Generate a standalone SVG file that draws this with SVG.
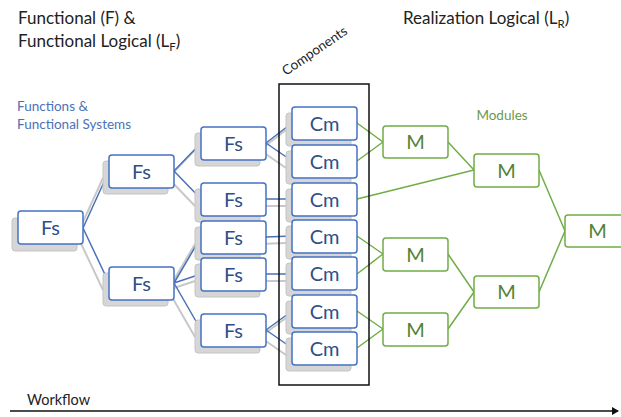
<svg xmlns="http://www.w3.org/2000/svg" width="621" height="417" viewBox="0 0 621 417">
<defs>
<style>
.t{font-family:Lato,"Liberation Sans",sans-serif;fill:#222}
.bl{fill:#fff;stroke:#4472c4;stroke-width:1.5}
.sh{fill:#d6d6d6;stroke:#c4c4c4;stroke-width:1}
.gr{fill:#fff;stroke:#70ad47;stroke-width:1.5}
.nt{font-family:Lato,"Liberation Sans",sans-serif;font-size:20px;text-anchor:middle;fill:#2f4f8a}
.mt{font-family:Lato,"Liberation Sans",sans-serif;font-size:20px;text-anchor:middle;fill:#548235}
.cb{stroke:#4a72b8;stroke-width:1.5;fill:none}
.cs{stroke:#c8c8c8;stroke-width:2;fill:none}
.cg{stroke:#70ad47;stroke-width:1.5;fill:none}
</style>
<marker id="ah" markerWidth="8" markerHeight="8" refX="6" refY="4" orient="auto" markerUnits="userSpaceOnUse">
<path d="M0,0 L7,4 L0,8 z" fill="#111"/>
</marker>
</defs>
<rect width="621" height="417" fill="#fff"/>

<text class="t" x="18" y="24" font-size="17">Functional (F) &amp;</text>
<text class="t" x="18" y="47" font-size="17">Functional Logical (L<tspan font-size="11.5" dy="4">F</tspan><tspan dy="-4">)</tspan></text>
<text class="t" x="403" y="24" font-size="17">Realization Logical (L<tspan font-size="11.5" dy="4">R</tspan><tspan dy="-4">)</tspan></text>
<text class="t" x="17" y="111" font-size="13.5" style="fill:#4a72b8">Functions &amp;</text>
<text class="t" x="17" y="129" font-size="13.5" style="fill:#4a72b8">Functional Systems</text>
<text class="t" x="502" y="120" font-size="13.5" text-anchor="middle" style="fill:#6a9a4a">Modules</text>
<text class="t" font-size="13.5" transform="translate(286,76) rotate(-34.5)">Components</text>
<text class="t" x="27" y="405" font-size="14.5">Workflow</text>

<g id="connectors">
<g id="shadow-lines">
<path class="cs" d="M77,235 L103,178 M77,235 L103,290"/>
<path class="cs" d="M168,178 L195,150 M168,178 L195,206"/>
<path class="cs" d="M168,290 L195,244 M168,290 L195,281 M168,290 L195,337"/>
<path class="cs" d="M260,150 L286,130 M260,150 L286,168"/>
<path class="cs" d="M260,206 L286,206 M260,244 L286,243 M260,281 L286,281"/>
<path class="cs" d="M260,337 L286,318 M260,337 L286,355"/>
</g>
<g id="blue-lines">
<path class="cb" d="M83,228 L109,171 M83,228 L109,283"/>
<path class="cb" d="M174,171 L201,143 M174,171 L201,199"/>
<path class="cb" d="M174,283 L201,237 M174,283 L201,274 M174,283 L201,330"/>
<path class="cb" d="M266,143 L292,123 M266,143 L292,161"/>
<path class="cb" d="M266,199 L292,199 M266,237 L292,236 M266,274 L292,274"/>
<path class="cb" d="M266,330 L292,311 M266,330 L292,348"/>
</g>
<g id="green-lines">
<path class="cg" d="M357,123 L383,142 M357,161 L383,142"/>
<path class="cg" d="M357,199 L474,170"/>
<path class="cg" d="M357,236 L383,254 M357,274 L383,254"/>
<path class="cg" d="M357,311 L383,329 M357,348 L383,329"/>
<path class="cg" d="M448,142 L474,170"/>
<path class="cg" d="M448,254 L474,292 M448,329 L474,292"/>
<path class="cg" d="M539,170 L565,231 M539,292 L565,231"/>
</g>
<line id="workflow" x1="10" y1="411" x2="618" y2="411" stroke="#111" stroke-width="1.5" marker-end="url(#ah)"/>
</g>

<rect id="components-box" x="279" y="84" width="90" height="301" fill="none" stroke="#111" stroke-width="1.5"/>

<g id="fs0"><rect class="sh" x="12" y="218" width="65" height="33" rx="3"/><rect class="bl" x="18" y="211" width="65" height="33" rx="3"/><text class="nt" x="50.5" y="235">Fs</text></g>
<g id="fs1"><rect class="sh" x="103" y="161" width="65" height="33" rx="3"/><rect class="bl" x="109" y="155" width="65" height="33" rx="3"/><text class="nt" x="141.5" y="179">Fs</text></g>
<g id="fs2"><rect class="sh" x="103" y="273" width="65" height="33" rx="3"/><rect class="bl" x="109" y="267" width="65" height="33" rx="3"/><text class="nt" x="141.5" y="291">Fs</text></g>

<g id="fs3"><rect class="sh" x="195" y="133" width="65" height="33" rx="3"/><rect class="bl" x="201" y="127" width="65" height="33" rx="3"/><text class="nt" x="233.5" y="151">Fs</text></g>
<g id="fs4"><rect class="sh" x="195" y="189" width="65" height="33" rx="3"/><rect class="bl" x="201" y="183" width="65" height="33" rx="3"/><text class="nt" x="233.5" y="207">Fs</text></g>
<g id="fs5"><rect class="sh" x="195" y="227" width="65" height="33" rx="3"/><rect class="bl" x="201" y="221" width="65" height="33" rx="3"/><text class="nt" x="233.5" y="245">Fs</text></g>
<g id="fs6"><rect class="sh" x="195" y="264" width="65" height="33" rx="3"/><rect class="bl" x="201" y="258" width="65" height="33" rx="3"/><text class="nt" x="233.5" y="282">Fs</text></g>
<g id="fs7"><rect class="sh" x="195" y="320" width="65" height="33" rx="3"/><rect class="bl" x="201" y="314" width="65" height="33" rx="3"/><text class="nt" x="233.5" y="338">Fs</text></g>

<g id="cm1"><rect class="sh" x="286" y="113" width="65" height="33" rx="3"/><rect class="bl" x="292" y="107" width="65" height="33" rx="3"/><text class="nt" x="324.5" y="131">Cm</text></g>
<g id="cm2"><rect class="sh" x="286" y="151" width="65" height="33" rx="3"/><rect class="bl" x="292" y="145" width="65" height="33" rx="3"/><text class="nt" x="324.5" y="169">Cm</text></g>
<g id="cm3"><rect class="sh" x="286" y="189" width="65" height="33" rx="3"/><rect class="bl" x="292" y="183" width="65" height="33" rx="3"/><text class="nt" x="324.5" y="207">Cm</text></g>
<g id="cm4"><rect class="sh" x="286" y="226" width="65" height="33" rx="3"/><rect class="bl" x="292" y="220" width="65" height="33" rx="3"/><text class="nt" x="324.5" y="244">Cm</text></g>
<g id="cm5"><rect class="sh" x="286" y="263" width="65" height="33" rx="3"/><rect class="bl" x="292" y="257" width="65" height="33" rx="3"/><text class="nt" x="324.5" y="281">Cm</text></g>
<g id="cm6"><rect class="sh" x="286" y="301" width="65" height="33" rx="3"/><rect class="bl" x="292" y="295" width="65" height="33" rx="3"/><text class="nt" x="324.5" y="319">Cm</text></g>
<g id="cm7"><rect class="sh" x="286" y="338" width="65" height="33" rx="3"/><rect class="bl" x="292" y="332" width="65" height="33" rx="3"/><text class="nt" x="324.5" y="356">Cm</text></g>

<g id="m1"><rect class="gr" x="383" y="126" width="65" height="32" rx="3"/><text class="mt" x="415.5" y="149">M</text></g>
<g id="m2"><rect class="gr" x="383" y="238" width="65" height="33" rx="3"/><text class="mt" x="415.5" y="262">M</text></g>
<g id="m3"><rect class="gr" x="383" y="313" width="65" height="33" rx="3"/><text class="mt" x="415.5" y="337">M</text></g>
<g id="m4"><rect class="gr" x="474" y="154" width="65" height="33" rx="3"/><text class="mt" x="506.5" y="178">M</text></g>
<g id="m5"><rect class="gr" x="474" y="276" width="65" height="32" rx="3"/><text class="mt" x="506.5" y="299">M</text></g>
<g id="m6"><rect class="gr" x="565" y="215" width="65" height="32" rx="3"/><text class="mt" x="597.5" y="238">M</text></g>
</svg>
